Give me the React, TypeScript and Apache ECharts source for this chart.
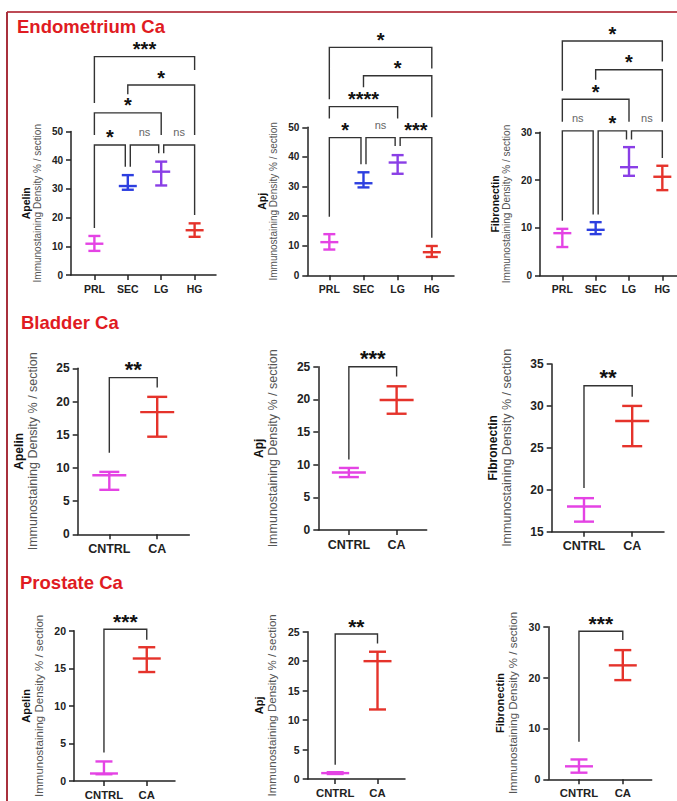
import React, { useEffect, useRef } from "react";
import * as echarts from "echarts";

const FONT = '"Liberation Sans", Arial, Helvetica, sans-serif';

// ---------- categories ----------
const endoCats = ["PRL", "SEC", "LG", "HG"];
const caCats = ["CNTRL", "CA"];
const endoColors = ["#e443e4", "#2d3fe0", "#8a3fe6", "#e5332b"];
const caColors = ["#e443e4", "#e5332b"];

// ---------- Endometrium Ca ----------
const endoApelinMean = [10.9, 31.0, 36.0, 15.6];
const endoApelinLow = [8.4, 29.7, 31.2, 13.3];
const endoApelinHigh = [13.6, 34.8, 39.5, 18.0];
// [from, to, bracket top, left leg end, right leg end]
const endoApelinBrackets = [
  [0, 1, 45.3, 16.4, 37.7],
  [1, 2, 45.3, 37.7, 42.4],
  [2, 3, 45.3, 42.4, 20.9],
  [0, 2, 56.5, 48.8, 48.8],
  [1, 3, 66.2, 63.0, 48.8],
  [0, 3, 76.1, 59.9, 71.4],
];
const endoApelinSig = ["*", "ns", "ns", "*", "*", "***"];

const endoApjMean = [11.2, 31.1, 38.1, 7.8];
const endoApjLow = [8.7, 29.7, 34.3, 6.2];
const endoApjHigh = [13.9, 34.8, 40.6, 9.9];
const endoApjBrackets = [
  [0, 1, 46.5, 19.8, 37.5],
  [1, 2, 46.5, 37.5, 43.7],
  [2, 3, 46.5, 43.7, 12.7],
  [0, 2, 57.0, 53.0, 53.0],
  [1, 3, 67.4, 63.5, 53.4],
  [0, 3, 77.0, 59.5, 69.9],
];
const endoApjSig = ["*", "ns", "***", "****", "*", "*"];

const endoFibMean = [8.9, 9.6, 22.7, 20.7];
const endoFibLow = [6.0, 8.7, 20.9, 17.9];
const endoFibHigh = [9.8, 11.2, 26.9, 23.0];
const endoFibBrackets = [
  [0, 1, 30.3, 11.5, 12.8],
  [1, 2, 30.3, 12.8, 28.5],
  [2, 3, 30.3, 28.5, 24.6],
  [0, 2, 36.9, 32.2, 32.2],
  [1, 3, 43.1, 41.0, 32.2],
  [0, 3, 49.1, 38.7, 44.8],
];
const endoFibSig = ["ns", "*", "ns", "*", "*", "*"];

// ---------- Bladder Ca ----------
const bladApelinMean = [8.9, 18.4];
const bladApelinLow = [6.7, 14.7];
const bladApelinHigh = [9.4, 20.7];
const bladApelinBrackets = [[0, 1, 23.6, 12.3, 22.1]];
const bladApelinSig = ["**"];

const bladApjMean = [8.8, 19.9];
const bladApjLow = [8.1, 17.8];
const bladApjHigh = [9.5, 22.0];
const bladApjBrackets = [[0, 1, 25.0, 10.8, 23.5]];
const bladApjSig = ["***"];

const bladFibMean = [18.0, 28.2];
const bladFibLow = [16.2, 25.2];
const bladFibHigh = [19.0, 30.0];
const bladFibBrackets = [[0, 1, 32.4, 20.2, 31.1]];
const bladFibSig = ["**"];

// ---------- Prostate Ca ----------
const prosApelinMean = [1.0, 16.3];
const prosApelinLow = [0.9, 14.5];
const prosApelinHigh = [2.6, 17.8];
const prosApelinBrackets = [[0, 1, 20.2, 3.8, 18.8]];
const prosApelinSig = ["***"];

const prosApjMean = [1.0, 20.0];
const prosApjLow = [0.85, 11.8];
const prosApjHigh = [1.15, 21.6];
const prosApjBrackets = [[0, 1, 24.6, 2.4, 23.0]];
const prosApjSig = ["**"];

const prosFibMean = [2.55, 22.4];
const prosFibLow = [1.3, 19.5];
const prosFibHigh = [3.9, 25.4];
const prosFibBrackets = [[0, 1, 29.1, 7.4, 27.4]];
const prosFibSig = ["***"];

// ---------- axis ranges ----------
const yRanges = [
  [0, 50, 10], [0, 50, 10], [0, 30, 10],
  [0, 25, 5], [0, 25, 5], [15, 35, 5],
  [0, 20, 5], [0, 25, 5], [0, 30, 10],
];

type Panel = {
  name: string;
  cats: string[];
  colors: string[];
  mean: number[];
  low: number[];
  high: number[];
  brackets: number[][];
  sig: string[];
  grid: { left: number; top: number; width: number; height: number };
  xMin: number;
  xMax: number;
  row: number;
};

const rowStyle = [
  { tick: 10, cat: 10.5, name: 10, title: 10.5, nameGap: 28, star: 20, ns: 11, meanHW: 9, capHW: 6 },
  { tick: 12, cat: 12.5, name: 12.5, title: 12, nameGap: 38, star: 22, ns: 11, meanHW: 17, capHW: 10 },
  { tick: 10.5, cat: 11.3, name: 11.5, title: 11, nameGap: 29, star: 21, ns: 11, meanHW: 14, capHW: 8.5 },
];

const panels: Panel[] = [
  { name: "Apelin", cats: endoCats, colors: endoColors, mean: endoApelinMean, low: endoApelinLow, high: endoApelinHigh, brackets: endoApelinBrackets, sig: endoApelinSig, grid: { left: 71, top: 131.5, width: 145, height: 143.5 }, xMin: -0.7, xMax: 3.64, row: 0 },
  { name: "Apj", cats: endoCats, colors: endoColors, mean: endoApjMean, low: endoApjLow, high: endoApjHigh, brackets: endoApjBrackets, sig: endoApjSig, grid: { left: 307.3, top: 127.3, width: 146.7, height: 148 }, xMin: -0.645, xMax: 3.65, row: 0 },
  { name: "Fibronectin", cats: endoCats, colors: endoColors, mean: endoFibMean, low: endoFibLow, high: endoFibHigh, brackets: endoFibBrackets, sig: endoFibSig, grid: { left: 540, top: 132.3, width: 137, height: 143.4 }, xMin: -0.67, xMax: 3.44, row: 0 },
  { name: "Apelin", cats: caCats, colors: caColors, mean: bladApelinMean, low: bladApelinLow, high: bladApelinHigh, brackets: bladApelinBrackets, sig: bladApelinSig, grid: { left: 77.7, top: 368.3, width: 111.6, height: 166 }, xMin: -0.66, xMax: 1.67, row: 1 },
  { name: "Apj", cats: caCats, colors: caColors, mean: bladApjMean, low: bladApjLow, high: bladApjHigh, brackets: bladApjBrackets, sig: bladApjSig, grid: { left: 318.3, top: 366.7, width: 108.4, height: 163.3 }, xMin: -0.64, xMax: 1.63, row: 1 },
  { name: "Fibronectin", cats: caCats, colors: caColors, mean: bladFibMean, low: bladFibLow, high: bladFibHigh, brackets: bladFibBrackets, sig: bladFibSig, grid: { left: 551.7, top: 364, width: 112.3, height: 167.7 }, xMin: -0.67, xMax: 1.66, row: 1 },
  { name: "Apelin", cats: caCats, colors: caColors, mean: prosApelinMean, low: prosApelinLow, high: prosApelinHigh, brackets: prosApelinBrackets, sig: prosApelinSig, grid: { left: 74, top: 630.7, width: 101, height: 150.3 }, xMin: -0.7, xMax: 1.66, row: 2 },
  { name: "Apj", cats: caCats, colors: caColors, mean: prosApjMean, low: prosApjLow, high: prosApjHigh, brackets: prosApjBrackets, sig: prosApjSig, grid: { left: 307.7, top: 631.7, width: 97.3, height: 147.3 }, xMin: -0.65, xMax: 1.65, row: 2 },
  { name: "Fibronectin", cats: caCats, colors: caColors, mean: prosFibMean, low: prosFibLow, high: prosFibHigh, brackets: prosFibBrackets, sig: prosFibSig, grid: { left: 548.3, top: 626.7, width: 103.4, height: 152.6 }, xMin: -0.7, xMax: 1.66, row: 2 },
];

function buildOption() {
  const grids: any[] = [];
  const xAxes: any[] = [];
  const yAxes: any[] = [];
  const series: any[] = [];

  panels.forEach((p, i) => {
    const rs = rowStyle[p.row];
    const [yMin, yMax, yInt] = yRanges[i];
    grids.push({ left: p.grid.left, top: p.grid.top, width: p.grid.width, height: p.grid.height, containLabel: false });
    const idx = p.cats.map((_, k) => k);
    xAxes.push({
      type: "value",
      gridIndex: i,
      min: p.xMin,
      max: p.xMax,
      splitLine: { show: false },
      axisLine: { show: true, onZero: false, lineStyle: { color: "#222", width: 1.5 } },
      axisTick: { show: true, customValues: idx, length: 5, lineStyle: { color: "#222", width: 1.5 } },
      axisLabel: {
        customValues: idx,
        margin: 8,
        fontFamily: FONT,
        fontWeight: "bold",
        fontSize: rs.cat,
        color: "#222",
        formatter: (v: number) => p.cats[Math.round(v)] ?? "",
      },
    });
    yAxes.push({
      type: "value",
      gridIndex: i,
      min: yMin,
      max: yMax,
      interval: yInt,
      splitLine: { show: false },
      axisLine: { show: true, onZero: false, lineStyle: { color: "#222", width: 1.5 } },
      axisTick: { show: true, length: 5, lineStyle: { color: "#222", width: 1.5 } },
      axisLabel: { margin: 8, fontFamily: FONT, fontWeight: "bold", fontSize: rs.tick, color: "#222" },
      name: `{a|${p.name}}\n{b|Immunostaining Density % / section}`,
      nameLocation: "middle",
      nameRotate: 90,
      nameGap: rs.nameGap,
      nameTextStyle: {
        rich: {
          a: { fontFamily: FONT, fontWeight: "bold", fontSize: rs.title, color: "#111", lineHeight: rs.name + 1.5, align: "center" },
          b: { fontFamily: FONT, fontSize: rs.name, color: "#555", lineHeight: rs.name + 1.5, align: "center" },
        },
      },
    });

    // error bars
    series.push({
      type: "custom",
      xAxisIndex: i,
      yAxisIndex: i,
      clip: false,
      data: p.mean.map((m, k) => [k, m, p.low[k], p.high[k]]),
      renderItem: (params: any, api: any) => {
        const x = api.value(0);
        const m = api.coord([x, api.value(1)]);
        const lo = api.coord([x, api.value(2)]);
        const hi = api.coord([x, api.value(3)]);
        const style = { stroke: p.colors[params.dataIndex], lineWidth: 2.4, fill: null };
        return {
          type: "group",
          children: [
            { type: "line", shape: { x1: lo[0], y1: lo[1], x2: hi[0], y2: hi[1] }, style },
            { type: "line", shape: { x1: m[0] - rs.meanHW, y1: m[1], x2: m[0] + rs.meanHW, y2: m[1] }, style },
            { type: "line", shape: { x1: lo[0] - rs.capHW, y1: lo[1], x2: lo[0] + rs.capHW, y2: lo[1] }, style },
            { type: "line", shape: { x1: hi[0] - rs.capHW, y1: hi[1], x2: hi[0] + rs.capHW, y2: hi[1] }, style },
          ],
        };
      },
    });

    // significance brackets
    series.push({
      type: "custom",
      xAxisIndex: i,
      yAxisIndex: i,
      clip: false,
      data: p.brackets,
      renderItem: (params: any, api: any) => {
        const f = api.value(0);
        const t = api.value(1);
        const top = api.value(2);
        const le = api.value(3);
        const re = api.value(4);
        const pl = api.coord([f, top]);
        const pr = api.coord([t, top]);
        const yl = api.coord([f, le])[1];
        const yr = api.coord([t, re])[1];
        const dxL = p.brackets.some((o) => o[2] === top && o[1] === f) ? 2.5 : 0;
        const dxR = p.brackets.some((o) => o[2] === top && o[0] === t) ? -2.5 : 0;
        const label = p.sig[params.dataIndex];
        const isNs = label === "ns";
        return {
          type: "group",
          children: [
            {
              type: "polyline",
              shape: { points: [[pl[0] + dxL, yl], [pl[0] + dxL, pl[1]], [pr[0] + dxR, pr[1]], [pr[0] + dxR, yr]] },
              style: { stroke: "#333", lineWidth: 1.4, fill: null },
            },
            {
              type: "text",
              x: (pl[0] + dxL + pr[0] + dxR) / 2,
              y: isNs ? pl[1] - 13 : pl[1] - 0.375 * rs.star,
              style: {
                text: label,
                fontFamily: FONT,
                fontSize: isNs ? rs.ns : rs.star,
                fontWeight: isNs ? "normal" : "bold",
                fill: isNs ? "#666" : "#111",
                align: "center",
                verticalAlign: "middle",
              },
            },
          ],
        };
      },
    });
  });

  const titleStyle = { fontFamily: FONT, fontWeight: "bold", fontSize: 18.5, fill: "#e01b22", verticalAlign: "middle" };
  const graphic = [
    { type: "line", shape: { x1: 7, y1: 12, x2: 677, y2: 12 }, style: { stroke: "#bd4b56", lineWidth: 2 } },
    { type: "line", shape: { x1: 7, y1: 12, x2: 7, y2: 801 }, style: { stroke: "#a8303c", lineWidth: 2 } },
    { type: "text", x: 17, y: 26, style: { ...titleStyle, text: "Endometrium Ca" } },
    { type: "text", x: 21, y: 322, style: { ...titleStyle, text: "Bladder Ca" } },
    { type: "text", x: 20, y: 582, style: { ...titleStyle, text: "Prostate Ca" } },
  ];

  return {
    animation: false,
    backgroundColor: "#ffffff",
    grid: grids,
    xAxis: xAxes,
    yAxis: yAxes,
    series,
    graphic,
  };
}

export default function App() {
  const ref = useRef<HTMLDivElement>(null);
  useEffect(() => {
    if (!ref.current) return;
    const chart = echarts.init(ref.current, null, { renderer: "svg" });
    chart.setOption(buildOption() as any);
    return () => chart.dispose();
  }, []);
  return (
    <div
      ref={ref}
      style={{ position: "fixed", left: 0, top: 0, width: 677, height: 801, background: "#fff" }}
    />
  );
}
